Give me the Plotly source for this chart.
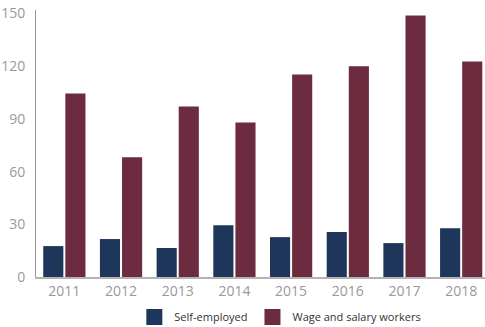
import plotly.graph_objects as go

years = ["2011", "2012", "2013", "2014", "2015", "2016", "2017", "2018"]
self_employed = [17.6, 21.6, 16.5, 29.5, 22.7, 25.6, 19.3, 27.8]
wage_salary = [104.5, 68.2, 97, 88, 115.3, 120, 148.9, 122.7]
y_ticks = [0, 30, 60, 90, 120, 150]
series_names = ["Self-employed", "Wage and salary workers"]

NAVY = "#1d365a"
MAROON = "#6d2b40"

fig = go.Figure()
fig.add_trace(go.Bar(x=years, y=self_employed, name=series_names[0], showlegend=False,
                     marker=dict(color=NAVY, line=dict(width=0))))
fig.add_trace(go.Bar(x=years, y=wage_salary, name=series_names[1], showlegend=False,
                     marker=dict(color=MAROON, line=dict(width=0))))
# legend entries with larger square swatches
for nm, col in zip(series_names, [NAVY, MAROON]):
    fig.add_trace(go.Scatter(x=[None], y=[None], mode="markers", name=nm,
                             marker=dict(symbol="square", size=16, color=col)))

fig.update_layout(
    width=485, height=327,
    margin=dict(l=36, r=0, t=10, b=50, autoexpand=False),
    paper_bgcolor="white", plot_bgcolor="white",
    font=dict(family="Open Sans", color="#999999", size=13),
    barmode="group", bargap=0.22, bargroupgap=0.09,
    showlegend=True,
    legend=dict(orientation="h", x=0.219, xanchor="left", y=-0.15, yanchor="middle",
                font=dict(size=11, color="#333333"), itemwidth=30,
                bgcolor="rgba(0,0,0,0)"),
    xaxis=dict(type="category", range=[-0.5, 7.42], showgrid=False,
               showline=True, linecolor="#b3b3b3", linewidth=2,
               ticks="", ticklabelstandoff=0, tickfont=dict(size=14, color="#999999")),
    yaxis=dict(range=[0, 152], tickvals=y_ticks, showgrid=False, zeroline=False,
               showline=True, linecolor="#999999", linewidth=1,
               ticks="", ticklabelstandoff=7,
               tickfont=dict(size=14, color="#999999")),
)

fig.write_html("out.html")
